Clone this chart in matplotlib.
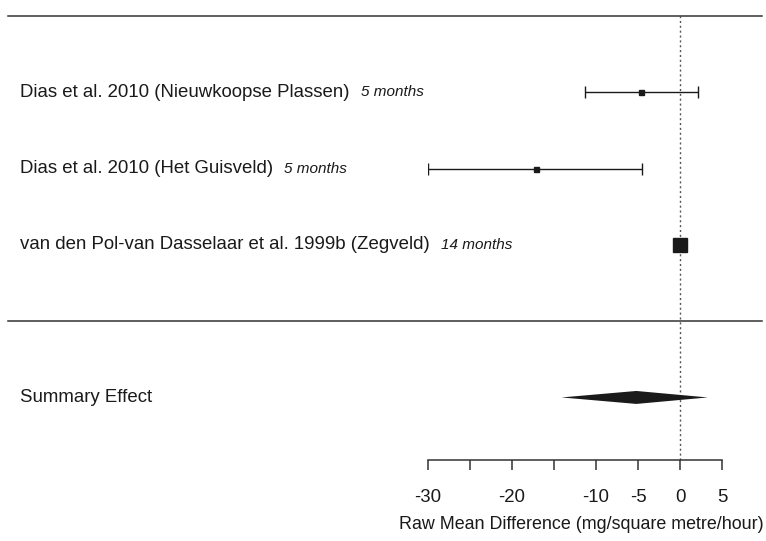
import matplotlib
matplotlib.use('Agg')
import matplotlib.pyplot as plt
import matplotlib.transforms as mtransforms

plt.rcParams['font.family'] = ['Liberation Sans', 'DejaVu Sans']

# study data (raw mean difference, 95% CI)
studies = ['Dias et al. 2010 (Nieuwkoopse Plassen)',
           'Dias et al. 2010 (Het Guisveld)',
           'van den Pol-van Dasselaar et al. 1999b (Zegveld)']
durations = ['5 months', '5 months', '14 months']
estimates = [-4.6, -17.1, -0.05]
ci_lower = [-11.3, -30.0, -0.4]
ci_upper = [2.1, -4.5, 0.3]
marker_sizes = [3.6, 3.6, 10]

summary_label = 'Summary Effect'
summary_est = -5.2
summary_lo = -14.1
summary_hi = 3.3

tick_values = [-30, -25, -20, -15, -10, -5, 0, 5]
tick_labels = ['-30', '', '-20', '', '-10', '-5', '0', '5']
xlabel = 'Raw Mean Difference (mg/square metre/hour)'

rows = [3, 2, 1]
summary_row = -1

W, H = 766, 541
fig = plt.figure(figsize=(W / 100, H / 100), dpi=100)
ax = fig.add_axes([428 / W, 1 - 460 / H, 294 / W, 444 / H])
ax.set_xlim(-30, 5)
ax.set_ylim(-1.82, 4)

text_col = '#1a1a1a'
line_col = '#333333'
fs = 13.4

# reference line
ax.axvline(0, color='#555555', lw=1, ls=(0, (1.5, 2)), zorder=1)

# horizontal separators across the whole figure
blend = mtransforms.blended_transform_factory(fig.transFigure, ax.transData)
for yy in [4, 0]:
    ax.plot([8 / W, 762 / W], [yy, yy], color=line_col, lw=1.1,
            transform=blend, clip_on=False)

# studies
for i in range(len(studies)):
    y = rows[i]
    ax.errorbar(estimates[i], y, xerr=[[estimates[i] - ci_lower[i]], [ci_upper[i] - estimates[i]]],
                fmt='none', ecolor=text_col, elinewidth=1, capsize=4, capthick=1)
    ax.plot(estimates[i], y, marker='s', ms=marker_sizes[i], color=text_col,
            mec=text_col, ls='none', zorder=3)
    t = ax.text(20 / W, y, studies[i], transform=blend, ha='left', va='center',
                fontsize=fs, color=text_col)
    ax.annotate(durations[i], xy=(1, 0.5), xycoords=t, xytext=(8, 0),
                textcoords='offset points', ha='left', va='center',
                fontsize=11, style='italic', color=text_col)

# summary diamond
h = 0.085
ax.fill([summary_lo, summary_est, summary_hi, summary_est],
        [summary_row, summary_row + h, summary_row, summary_row - h],
        color=text_col, lw=0, zorder=3)
ax.text(20 / W, summary_row, summary_label, transform=blend, ha='left', va='center',
        fontsize=fs, color=text_col)

# x axis
for s in ['top', 'right', 'left']:
    ax.spines[s].set_visible(False)
ax.spines['bottom'].set_color(line_col)
ax.spines['bottom'].set_linewidth(1.1)
ax.set_yticks([])
ax.set_xticks(tick_values)
ax.set_xticklabels(tick_labels)
ax.tick_params(axis='x', direction='out', length=7.5, width=1.1, color=line_col,
               labelsize=fs, labelcolor=text_col, pad=13.5)
ax.set_xlabel(xlabel, fontsize=12.9, color=text_col)
ax.xaxis.set_label_coords(0.52, -0.127)

fig.savefig('out.png', dpi=100)
